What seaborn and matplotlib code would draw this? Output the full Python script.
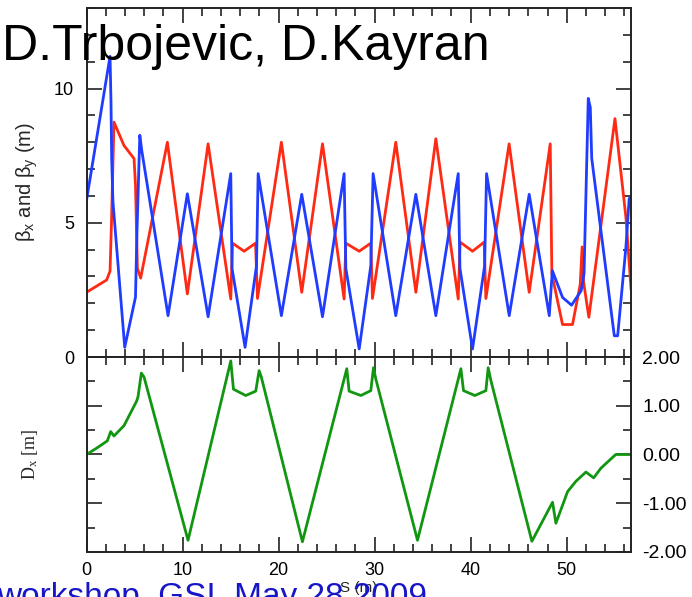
import numpy as np
import pandas as pd
import matplotlib
matplotlib.use("Agg")
import matplotlib.pyplot as plt
import seaborn as sns
from matplotlib.ticker import MultipleLocator, FixedLocator, FormatStrFormatter

# ---- data ----
s_bx = [0, 2.45, 2.55, 2.62, 2.75, 3.98, 5.1, 5.25, 5.55, 5.75, 8.49, 10.5, 12.66,
        15.02, 15.15, 16.51, 17.7, 17.87, 20.29, 22.41, 24.57, 26.82, 27.0, 28.39,
        29.6, 29.84, 32.2, 34.29, 36.37, 38.7, 38.88, 40.19, 41.45, 41.65, 44.01,
        46.09, 48.18, 48.5, 49.56, 50.5, 51.5, 51.8, 52.24, 52.45, 52.6, 54.95,
        55.3, 56.16, 56.5, 56.7]
beta_x = [5.83, 11.2, 9.5, 7.4, 5.8, 0.36, 2.23, 4.6, 8.26, 7.7, 1.54, 6.08, 1.5,
          6.83, 3.3, 0.36, 3.4, 6.83, 1.54, 6.06, 1.5, 6.83, 3.3, 0.30,
          3.4, 6.83, 1.54, 6.06, 1.54, 6.83, 3.3, 0.30, 3.4, 6.83, 1.54,
          6.06, 1.54, 3.22, 2.22, 1.93, 2.47, 3.1, 9.63, 9.3, 7.4, 0.79,
          0.79, 4.09, 5.9, 6.0]

s_by = [0, 2.1, 2.45, 2.6, 2.86, 3.9, 4.95, 5.1, 5.3, 5.64, 8.42, 10.5, 12.66,
        15.02, 15.2, 16.41, 17.6, 17.8, 20.29, 22.41, 24.57, 26.82, 27.0, 28.39,
        29.6, 29.77, 32.2, 34.29, 36.37, 38.7, 38.9, 40.19, 41.4, 41.58, 44.0,
        46.09, 48.28, 48.45, 49.56, 50.6, 51.4, 51.6, 51.75, 52.3, 55.02, 56.16, 56.7]
beta_y = [2.41, 2.87, 3.2, 5.0, 8.75, 7.88, 7.39, 6.4, 3.3, 2.94, 8.0, 2.35, 7.94,
          2.16, 4.24, 3.94, 4.24, 2.18, 8.0, 2.41, 7.94, 2.16, 4.24, 3.94,
          4.24, 2.18, 8.0, 2.41, 8.13, 2.16, 4.28, 3.94, 4.28, 2.18, 7.94,
          2.41, 7.94, 3.1, 1.21, 1.21, 2.7, 4.1, 2.8, 1.48, 8.88, 5.2, 2.5]

s_d = [0, 1.13, 2.17, 2.52, 2.86, 3.9, 5.23, 5.37, 5.71, 5.99, 10.57, 15.02, 15.3,
       16.58, 17.62, 17.97, 18.2, 22.48, 27.1, 27.34, 28.56, 29.6, 29.88, 30.12,
       34.46, 38.98, 39.25, 40.43, 41.58, 41.82, 42.1, 46.37, 48.52, 48.87, 50.09,
       50.95, 52.0, 52.8, 53.56, 55.1, 56.7]
d_x = [0, 0.14, 0.28, 0.47, 0.38, 0.59, 1.10, 1.19, 1.67, 1.59, -1.76, 1.92, 1.34,
       1.21, 1.30, 1.72, 1.59, -1.79, 1.76, 1.30, 1.21, 1.31, 1.78, 1.55,
       -1.76, 1.76, 1.31, 1.21, 1.31, 1.78, 1.52, -1.78, -0.98, -1.41, -0.76,
       -0.55, -0.36, -0.48, -0.28, 0.0, 0.0]

x_ticks = [0, 10, 20, 30, 40, 50]
beta_ticks = [0, 5, 10]
d_ticks = [-2, -1, 0, 1, 2]

title_text = "D.Trbojevic, D.Kayran"
footer_text = "workshop, GSI, May 28 2009"

BLUE = "#1f3cff"
RED = "#ff2a14"
GREEN = "#129612"

sns.set_style("ticks")
plt.rcParams['font.family'] = ['Liberation Sans', 'DejaVu Sans']
plt.rcParams['mathtext.default'] = 'regular'

fig = plt.figure(figsize=(6.92, 5.97), dpi=100)
ax1 = fig.add_axes([0.125, 0.402, 0.787, 0.5846])
ax2 = fig.add_axes([0.125, 0.0754, 0.787, 0.3266])

df_x = pd.DataFrame({'s': s_bx, 'beta': beta_x})
df_y = pd.DataFrame({'s': s_by, 'beta': beta_y})
df_d = pd.DataFrame({'s': s_d, 'D': d_x})

sns.lineplot(data=df_y, x='s', y='beta', ax=ax1, color=RED, lw=2.0,
             estimator=None, sort=False)
sns.lineplot(data=df_x, x='s', y='beta', ax=ax1, color=BLUE, lw=2.0,
             estimator=None, sort=False)
sns.lineplot(data=df_d, x='s', y='D', ax=ax2, color=GREEN, lw=2.0,
             estimator=None, sort=False)

for ax in (ax1, ax2):
    ax.set_xlim(0, 56.7)
    ax.xaxis.set_major_locator(FixedLocator(x_ticks))
    ax.xaxis.set_minor_locator(MultipleLocator(2))
    ax.tick_params(which='both', direction='in', top=True, right=True,
                   bottom=True, left=True, colors='#222222', width=1.2,
                   labelsize=13, labelcolor='black')
    ax.tick_params(which='major', length=11)
    ax.tick_params(which='minor', length=6)
    for sp in ax.spines.values():
        sp.set_linewidth(1.4)
        sp.set_color('#222222')
    ax.set_xlabel('')
    ax.set_ylabel('')

ax1.set_ylim(0, 13)
ax1.yaxis.set_major_locator(FixedLocator(beta_ticks))
ax1.yaxis.set_minor_locator(MultipleLocator(1))
ax1.tick_params(axis='x', labelbottom=False)
ax1.tick_params(axis='y', pad=9)
ax1.set_ylabel(r'$\beta_x$ and $\beta_y$ (m)', fontsize=14.5)
ax1.yaxis.set_label_coords(-0.085, 0.5)

ax2.set_ylim(-2, 2)
ax2.yaxis.set_major_locator(FixedLocator(d_ticks))
ax2.yaxis.set_minor_locator(MultipleLocator(0.5))
ax2.yaxis.set_major_formatter(FormatStrFormatter('%.2f'))
ax2.tick_params(axis='y', labelleft=False, labelright=True, pad=8, labelsize=14)
ax2.tick_params(axis='x', pad=7)
ax2.set_ylabel(r'D$_x$ [m]', fontsize=13, family=['Liberation Serif', 'DejaVu Serif'])
ax2.yaxis.set_label_position('left')
ax2.yaxis.set_label_coords(-0.085, 0.5)
ax2.set_xlabel('S (m)', fontsize=11, labelpad=2)

fig.text(0.003, 1 - 60 / 597, title_text, fontsize=36, va='baseline', ha='left',
         color='black', zorder=5)
fig.text(-0.004, 1 - 606 / 597, footer_text, fontsize=24, va='baseline', ha='left',
         color='#1616c8', zorder=5)

fig.savefig('out.png', dpi=100)
